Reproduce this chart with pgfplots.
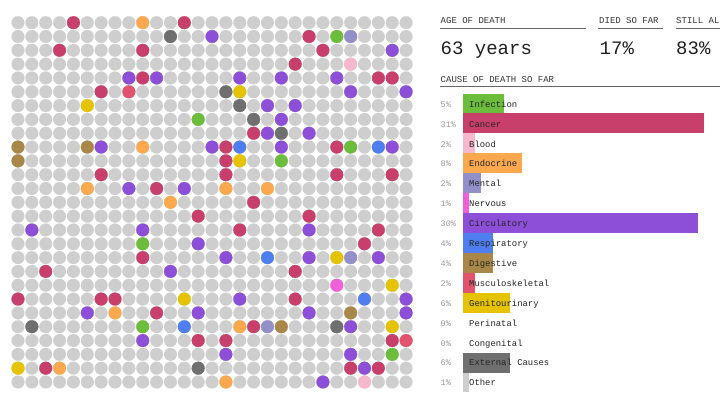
\documentclass[border=0pt]{standalone}
\usepackage{fontspec}
\setmainfont{Liberation Mono}
\usepackage{pgfplots}
\pgfplotsset{compat=1.18}
\definecolor{cInf}{RGB}{108,189,60}
\definecolor{cCan}{RGB}{201,63,107}
\definecolor{cBlo}{RGB}{247,183,204}
\definecolor{cEnd}{RGB}{251,168,79}
\definecolor{cMen}{RGB}{147,144,201}
\definecolor{cNer}{RGB}{240,96,216}
\definecolor{cCir}{RGB}{141,79,216}
\definecolor{cRes}{RGB}{79,126,240}
\definecolor{cDig}{RGB}{169,135,73}
\definecolor{cMus}{RGB}{226,84,110}
\definecolor{cGen}{RGB}{230,195,0}
\definecolor{cExt}{RGB}{111,111,111}
\definecolor{cOth}{RGB}{206,206,206}
\definecolor{cAlive}{RGB}{206,206,206}
\pgfplotsset{dot/.style={only marks, mark=*, mark size=6.45pt, color=#1, mark options={line width=0.1pt}}}
\tikzset{lab/.style={anchor=base west, inner sep=0pt, font=\fontsize{8.9}{10}\selectfont, text=black!85},
 pct/.style={anchor=base west, inner sep=0pt, font=\fontsize{8.5}{10}\selectfont, text=black!40},
 head/.style={anchor=base west, inner sep=0pt, font=\fontsize{9}{10}\selectfont, text=black!80},
 big/.style={anchor=base west, inner sep=0pt, font=\fontsize{19}{20}\selectfont, text=black!88}}
\begin{document}
\begin{tikzpicture}
\useasboundingbox (0pt,0pt) rectangle (720pt,-405pt);
\begin{axis}[at={(11.07pt,-15.76pt)}, anchor=north west, x=13.86pt, y=13.82pt, y dir=reverse,
 xmin=-0.5, xmax=28.5, ymin=-0.5, ymax=26.5, hide axis, scale only axis, clip=false]
\addplot[dot=cAlive] coordinates {(0,0)(1,0)(2,0)(3,0)(4,0)(5,0)(6,0)(7,0)(8,0)(9,0)(10,0)(11,0)(12,0)(13,0)(14,0)(15,0)(16,0)(17,0)(18,0)(19,0)(20,0)(21,0)(22,0)(23,0)(24,0)(25,0)(26,0)(27,0)(28,0)
(0,1)(1,1)(2,1)(3,1)(4,1)(5,1)(6,1)(7,1)(8,1)(9,1)(10,1)(11,1)(12,1)(13,1)(14,1)(15,1)(16,1)(17,1)(18,1)(19,1)(20,1)(21,1)(22,1)(23,1)(24,1)(25,1)(26,1)(27,1)(28,1)
(0,2)(1,2)(2,2)(3,2)(4,2)(5,2)(6,2)(7,2)(8,2)(9,2)(10,2)(11,2)(12,2)(13,2)(14,2)(15,2)(16,2)(17,2)(18,2)(19,2)(20,2)(21,2)(22,2)(23,2)(24,2)(25,2)(26,2)(27,2)(28,2)
(0,3)(1,3)(2,3)(3,3)(4,3)(5,3)(6,3)(7,3)(8,3)(9,3)(10,3)(11,3)(12,3)(13,3)(14,3)(15,3)(16,3)(17,3)(18,3)(19,3)(20,3)(21,3)(22,3)(23,3)(24,3)(25,3)(26,3)(27,3)(28,3)
(0,4)(1,4)(2,4)(3,4)(4,4)(5,4)(6,4)(7,4)(8,4)(9,4)(10,4)(11,4)(12,4)(13,4)(14,4)(15,4)(16,4)(17,4)(18,4)(19,4)(20,4)(21,4)(22,4)(23,4)(24,4)(25,4)(26,4)(27,4)(28,4)
(0,5)(1,5)(2,5)(3,5)(4,5)(5,5)(6,5)(7,5)(8,5)(9,5)(10,5)(11,5)(12,5)(13,5)(14,5)(15,5)(16,5)(17,5)(18,5)(19,5)(20,5)(21,5)(22,5)(23,5)(24,5)(25,5)(26,5)(27,5)(28,5)
(0,6)(1,6)(2,6)(3,6)(4,6)(5,6)(6,6)(7,6)(8,6)(9,6)(10,6)(11,6)(12,6)(13,6)(14,6)(15,6)(16,6)(17,6)(18,6)(19,6)(20,6)(21,6)(22,6)(23,6)(24,6)(25,6)(26,6)(27,6)(28,6)
(0,7)(1,7)(2,7)(3,7)(4,7)(5,7)(6,7)(7,7)(8,7)(9,7)(10,7)(11,7)(12,7)(13,7)(14,7)(15,7)(16,7)(17,7)(18,7)(19,7)(20,7)(21,7)(22,7)(23,7)(24,7)(25,7)(26,7)(27,7)(28,7)
(0,8)(1,8)(2,8)(3,8)(4,8)(5,8)(6,8)(7,8)(8,8)(9,8)(10,8)(11,8)(12,8)(13,8)(14,8)(15,8)(16,8)(17,8)(18,8)(19,8)(20,8)(21,8)(22,8)(23,8)(24,8)(25,8)(26,8)(27,8)(28,8)
(0,9)(1,9)(2,9)(3,9)(4,9)(5,9)(6,9)(7,9)(8,9)(9,9)(10,9)(11,9)(12,9)(13,9)(14,9)(15,9)(16,9)(17,9)(18,9)(19,9)(20,9)(21,9)(22,9)(23,9)(24,9)(25,9)(26,9)(27,9)(28,9)
(0,10)(1,10)(2,10)(3,10)(4,10)(5,10)(6,10)(7,10)(8,10)(9,10)(10,10)(11,10)(12,10)(13,10)(14,10)(15,10)(16,10)(17,10)(18,10)(19,10)(20,10)(21,10)(22,10)(23,10)(24,10)(25,10)(26,10)(27,10)(28,10)
(0,11)(1,11)(2,11)(3,11)(4,11)(5,11)(6,11)(7,11)(8,11)(9,11)(10,11)(11,11)(12,11)(13,11)(14,11)(15,11)(16,11)(17,11)(18,11)(19,11)(20,11)(21,11)(22,11)(23,11)(24,11)(25,11)(26,11)(27,11)(28,11)
(0,12)(1,12)(2,12)(3,12)(4,12)(5,12)(6,12)(7,12)(8,12)(9,12)(10,12)(11,12)(12,12)(13,12)(14,12)(15,12)(16,12)(17,12)(18,12)(19,12)(20,12)(21,12)(22,12)(23,12)(24,12)(25,12)(26,12)(27,12)(28,12)
(0,13)(1,13)(2,13)(3,13)(4,13)(5,13)(6,13)(7,13)(8,13)(9,13)(10,13)(11,13)(12,13)(13,13)(14,13)(15,13)(16,13)(17,13)(18,13)(19,13)(20,13)(21,13)(22,13)(23,13)(24,13)(25,13)(26,13)(27,13)(28,13)
(0,14)(1,14)(2,14)(3,14)(4,14)(5,14)(6,14)(7,14)(8,14)(9,14)(10,14)(11,14)(12,14)(13,14)(14,14)(15,14)(16,14)(17,14)(18,14)(19,14)(20,14)(21,14)(22,14)(23,14)(24,14)(25,14)(26,14)(27,14)(28,14)
(0,15)(1,15)(2,15)(3,15)(4,15)(5,15)(6,15)(7,15)(8,15)(9,15)(10,15)(11,15)(12,15)(13,15)(14,15)(15,15)(16,15)(17,15)(18,15)(19,15)(20,15)(21,15)(22,15)(23,15)(24,15)(25,15)(26,15)(27,15)(28,15)
(0,16)(1,16)(2,16)(3,16)(4,16)(5,16)(6,16)(7,16)(8,16)(9,16)(10,16)(11,16)(12,16)(13,16)(14,16)(15,16)(16,16)(17,16)(18,16)(19,16)(20,16)(21,16)(22,16)(23,16)(24,16)(25,16)(26,16)(27,16)(28,16)
(0,17)(1,17)(2,17)(3,17)(4,17)(5,17)(6,17)(7,17)(8,17)(9,17)(10,17)(11,17)(12,17)(13,17)(14,17)(15,17)(16,17)(17,17)(18,17)(19,17)(20,17)(21,17)(22,17)(23,17)(24,17)(25,17)(26,17)(27,17)(28,17)
(0,18)(1,18)(2,18)(3,18)(4,18)(5,18)(6,18)(7,18)(8,18)(9,18)(10,18)(11,18)(12,18)(13,18)(14,18)(15,18)(16,18)(17,18)(18,18)(19,18)(20,18)(21,18)(22,18)(23,18)(24,18)(25,18)(26,18)(27,18)(28,18)
(0,19)(1,19)(2,19)(3,19)(4,19)(5,19)(6,19)(7,19)(8,19)(9,19)(10,19)(11,19)(12,19)(13,19)(14,19)(15,19)(16,19)(17,19)(18,19)(19,19)(20,19)(21,19)(22,19)(23,19)(24,19)(25,19)(26,19)(27,19)(28,19)
(0,20)(1,20)(2,20)(3,20)(4,20)(5,20)(6,20)(7,20)(8,20)(9,20)(10,20)(11,20)(12,20)(13,20)(14,20)(15,20)(16,20)(17,20)(18,20)(19,20)(20,20)(21,20)(22,20)(23,20)(24,20)(25,20)(26,20)(27,20)(28,20)
(0,21)(1,21)(2,21)(3,21)(4,21)(5,21)(6,21)(7,21)(8,21)(9,21)(10,21)(11,21)(12,21)(13,21)(14,21)(15,21)(16,21)(17,21)(18,21)(19,21)(20,21)(21,21)(22,21)(23,21)(24,21)(25,21)(26,21)(27,21)(28,21)
(0,22)(1,22)(2,22)(3,22)(4,22)(5,22)(6,22)(7,22)(8,22)(9,22)(10,22)(11,22)(12,22)(13,22)(14,22)(15,22)(16,22)(17,22)(18,22)(19,22)(20,22)(21,22)(22,22)(23,22)(24,22)(25,22)(26,22)(27,22)(28,22)
(0,23)(1,23)(2,23)(3,23)(4,23)(5,23)(6,23)(7,23)(8,23)(9,23)(10,23)(11,23)(12,23)(13,23)(14,23)(15,23)(16,23)(17,23)(18,23)(19,23)(20,23)(21,23)(22,23)(23,23)(24,23)(25,23)(26,23)(27,23)(28,23)
(0,24)(1,24)(2,24)(3,24)(4,24)(5,24)(6,24)(7,24)(8,24)(9,24)(10,24)(11,24)(12,24)(13,24)(14,24)(15,24)(16,24)(17,24)(18,24)(19,24)(20,24)(21,24)(22,24)(23,24)(24,24)(25,24)(26,24)(27,24)(28,24)
(0,25)(1,25)(2,25)(3,25)(4,25)(5,25)(6,25)(7,25)(8,25)(9,25)(10,25)(11,25)(12,25)(13,25)(14,25)(15,25)(16,25)(17,25)(18,25)(19,25)(20,25)(21,25)(22,25)(23,25)(24,25)(25,25)(26,25)(27,25)(28,25)
(0,26)(1,26)(2,26)(3,26)(4,26)(5,26)(6,26)(7,26)(8,26)(9,26)(10,26)(11,26)(12,26)(13,26)(14,26)(15,26)(16,26)(17,26)(18,26)(19,26)(20,26)(21,26)(22,26)(23,26)(24,26)(25,26)(26,26)(27,26)(28,26)};
% Cancer
\addplot[dot=cCan] coordinates {(4,0)(12,0)(3,2)(9,2)(9,4)(6,5)(6,11)(10,12)(21,1)(22,2)(20,3)(26,4)(27,4)(17,8)(15,9)(23,9)(15,10)(15,11)(23,11)(27,11)(17,13)(13,14)(9,17)(2,18)(0,20)(6,20)(7,20)(10,21)(13,23)(2,25)(21,14)(16,15)(26,15)(25,16)(20,18)(20,20)(17,22)(15,23)(27,23)(24,25)(26,25)};
% Circulatory
\addplot[dot=cCir] coordinates {(8,4)(10,4)(6,9)(8,12)(12,12)(14,1)(27,2)(16,4)(19,4)(23,4)(24,5)(28,5)(18,6)(20,6)(19,7)(18,8)(21,8)(14,9)(19,9)(27,9)(1,15)(9,15)(13,16)(11,18)(5,21)(13,21)(9,23)(21,15)(15,17)(21,17)(26,17)(16,20)(28,20)(21,21)(28,21)(24,22)(15,24)(24,24)(25,25)(22,26)};
% Endocrine
\addplot[dot=cEnd] coordinates {(9,0)(9,9)(5,12)(11,13)(15,12)(18,12)(7,21)(3,25)(16,22)(15,26)};
% Infection
\addplot[dot=cInf] coordinates {(13,7)(23,1)(24,9)(19,10)(9,16)(9,22)(27,24)};
% Genitourinary
\addplot[dot=cGen] coordinates {(5,6)(16,5)(16,10)(12,20)(0,25)(23,17)(27,19)(27,22)};
% Digestive
\addplot[dot=cDig] coordinates {(0,9)(5,9)(0,10)(24,21)(19,22)};
% Respiratory
\addplot[dot=cRes] coordinates {(16,9)(26,9)(12,22)(18,17)(25,20)};
% External causes
\addplot[dot=cExt] coordinates {(11,1)(15,5)(16,6)(17,7)(19,8)(1,22)(13,25)(23,22)};
% Mental
\addplot[dot=cMen] coordinates {(24,1)(24,17)(18,22)};
% Blood
\addplot[dot=cBlo] coordinates {(24,3)(25,26)};
% Nervous
\addplot[dot=cNer] coordinates {(23,19)};
% Musculoskeletal
\addplot[dot=cMus] coordinates {(8,5)(28,23)};
\end{axis}

\begin{axis}[at={(463.3pt,-93.5pt)}, anchor=north west, x=5.878pt, y=19.93pt, y dir=reverse,
 xmin=0, xmax=41, ymin=-0.5, ymax=14.5, hide axis, scale only axis, clip=false,
 xbar, bar width=19.93pt, bar shift=0pt]
\addplot[fill=cInf, draw=none] coordinates {(7,0)};
\addplot[fill=cCan, draw=none] coordinates {(41,1)};
\addplot[fill=cBlo, draw=none] coordinates {(2,2)};
\addplot[fill=cEnd, draw=none] coordinates {(10,3)};
\addplot[fill=cMen, draw=none] coordinates {(3,4)};
\addplot[fill=cNer, draw=none] coordinates {(1,5)};
\addplot[fill=cCir, draw=none] coordinates {(40,6)};
\addplot[fill=cRes, draw=none] coordinates {(5,7)};
\addplot[fill=cDig, draw=none] coordinates {(5,8)};
\addplot[fill=cMus, draw=none] coordinates {(2,9)};
\addplot[fill=cGen, draw=none] coordinates {(8,10)};
\addplot[fill=white, draw=none] coordinates {(0,11)};
\addplot[fill=white, draw=none] coordinates {(0,12)};
\addplot[fill=cExt, draw=none] coordinates {(8,13)};
\addplot[fill=cOth, draw=none] coordinates {(1,14)};
\end{axis}

% header
\node[head] at (440.5pt,-23.3pt) {AGE OF DEATH};
\node[head] at (599pt,-23.3pt) {DIED SO FAR};
\node[head] at (676pt,-23.3pt) {STILL ALIVE};
\draw[black!60, line width=0.9pt] (440pt,-28.7pt) -- (586pt,-28.7pt);
\draw[black!60, line width=0.9pt] (598.3pt,-28.7pt) -- (662.7pt,-28.7pt);
\draw[black!60, line width=0.9pt] (675.7pt,-28.7pt) -- (725pt,-28.7pt);
\node[big] at (440.5pt,-54.3pt) {63 years};
\node[big] at (599.5pt,-54.3pt) {17\%};
\node[big] at (676pt,-54.3pt) {83\%};
\node[head] at (440.5pt,-82pt) {CAUSE OF DEATH SO FAR};
\draw[black!60, line width=0.9pt] (440pt,-86.7pt) -- (725pt,-86.7pt);

% category rows
\node[pct] at (440.5pt,-107.2pt) {5\%};
\node[pct] at (440.5pt,-127.1pt) {31\%};
\node[pct] at (440.5pt,-147.0pt) {2\%};
\node[pct] at (440.5pt,-166.9pt) {8\%};
\node[pct] at (440.5pt,-186.8pt) {2\%};
\node[pct] at (440.5pt,-206.7pt) {1\%};
\node[pct] at (440.5pt,-226.6pt) {30\%};
\node[pct] at (440.5pt,-246.5pt) {4\%};
\node[pct] at (440.5pt,-266.4pt) {4\%};
\node[pct] at (440.5pt,-286.3pt) {2\%};
\node[pct] at (440.5pt,-306.2pt) {6\%};
\node[pct] at (440.5pt,-326.1pt) {0\%};
\node[pct] at (440.5pt,-346.0pt) {0\%};
\node[pct] at (440.5pt,-365.9pt) {6\%};
\node[pct] at (440.5pt,-385.8pt) {1\%};

\node[lab] at (469pt,-107.2pt) {Infection};
\node[lab] at (469pt,-127.1pt) {Cancer};
\node[lab] at (469pt,-147.0pt) {Blood};
\node[lab] at (469pt,-166.9pt) {Endocrine};
\node[lab] at (469pt,-186.8pt) {Mental};
\node[lab] at (469pt,-206.7pt) {Nervous};
\node[lab] at (469pt,-226.6pt) {Circulatory};
\node[lab] at (469pt,-246.5pt) {Respiratory};
\node[lab] at (469pt,-266.4pt) {Digestive};
\node[lab] at (469pt,-286.3pt) {Musculoskeletal};
\node[lab] at (469pt,-306.2pt) {Genitourinary};
\node[lab] at (469pt,-326.1pt) {Perinatal};
\node[lab] at (469pt,-346.0pt) {Congenital};
\node[lab] at (469pt,-365.9pt) {External Causes};
\node[lab] at (469pt,-385.8pt) {Other};
\end{tikzpicture}
\end{document}
